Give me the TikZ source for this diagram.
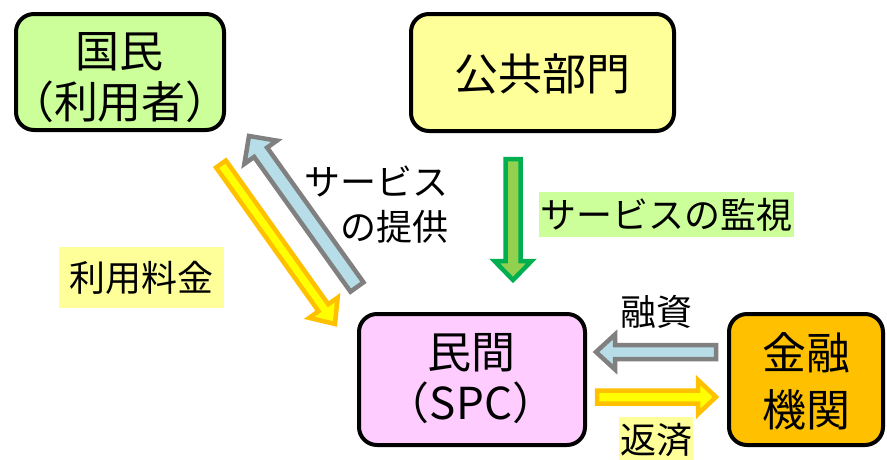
\documentclass[tikz,border=0pt]{standalone}
\usepackage{fontspec}
\newfontfamily\jp{Noto Sans CJK JP}
\usetikzlibrary{calc}
\definecolor{boxgreen}{HTML}{CCFF99}
\definecolor{boxyellow}{HTML}{FFFF99}
\definecolor{boxpink}{HTML}{FFCCFF}
\definecolor{boxorange}{HTML}{FFC000}
\definecolor{arrblue}{HTML}{B7DEE8}
\definecolor{arrgray}{HTML}{808080}
\definecolor{arrgreen}{HTML}{92D050}
\definecolor{arrgreenline}{HTML}{00B050}
\definecolor{arryellow}{HTML}{FFFF00}
\definecolor{arrorange}{HTML}{FFC000}
\tikzset{
  box/.style={draw=black, line width=4pt, rounded corners=18pt, inner sep=0pt},
  big/.style={font=\jp\fontsize{44}{51}\selectfont, inner sep=0pt, align=center},
  lab/.style={font=\jp\fontsize{36}{45}\selectfont, inner sep=0pt},
  arr/.style={line width=4.5pt, line join=miter},
  yarr/.style={arr, fill=arryellow, draw=arrorange},
  barr/.style={arr, fill=arrblue, draw=arrgray},
  garr/.style={arr, fill=arrgreen, draw=arrgreenline},
}
% #1 from, #2 to, #3 half shaft, #4 half head, #5 head length, #6 style
\newcommand\blockarr[6]{%
  \coordinate (#1#2n) at ($(#2)!#5!(#1)$);
  \path[#6] ($(#1)!#3!90:(#2)$) -- ($(#1#2n)!#3!90:(#2)$) -- ($(#1#2n)!#4!90:(#2)$)
    -- (#2) -- ($(#1#2n)!#4!-90:(#2)$) -- ($(#1#2n)!#3!-90:(#2)$) -- ($(#1)!#3!-90:(#2)$) -- cycle;
}
\begin{document}
\begin{tikzpicture}[x=1pt, y=-1pt]
\useasboundingbox (0,0) rectangle (887,459);

% boxes
\node[box, fill=boxgreen, minimum width=208pt, minimum height=116pt] (kokumin) at (120,72) {};
\node[big] (kokumintxt) at (120,77.5) {国民\\（利用者）};
\node[box, fill=boxyellow, minimum width=263pt, minimum height=117pt] (kokyo) at (542.5,72.5) {};
\node[big] (kokyotxt) at (542,74) {公共部門};
\node[box, fill=boxpink, minimum width=226pt, minimum height=131pt] (minkan) at (472,379.5) {};
\node[big] (minkantxt) at (471,378.5) {民間\\（SPC）};
\node[box, fill=boxorange, minimum width=154pt, minimum height=131pt] (kinyu) at (806,379.5) {};
\node[big, font=\jp\fontsize{44}{57}\selectfont] (kinyutxt) at (806,381.5) {金融\\機関};

% arrow end points
\coordinate (ya) at (221,164);
\coordinate (yb) at (335,324);
\coordinate (ba) at (357,287);
\coordinate (bb) at (249,136);
\coordinate (ga) at (513,159);
\coordinate (gb) at (513,280);
\coordinate (la) at (716,352);
\coordinate (lb) at (596,352);
\coordinate (ra) at (597,397);
\coordinate (rb) at (716,397);

\blockarr{ya}{yb}{6pt}{17.5pt}{20pt}{yarr}
\blockarr{ba}{bb}{8pt}{20pt}{20pt}{barr}
\blockarr{ga}{gb}{7.5pt}{18.5pt}{19pt}{garr}
\blockarr{la}{lb}{7pt}{17.5pt}{19pt}{barr}
\blockarr{ra}{rb}{6.5pt}{17pt}{18pt}{yarr}

% labels
\node[lab, align=right, anchor=east] (teikyo) at (449,204.5) {サービス\\の提供};
\node[lab, fill=boxgreen, minimum width=255pt, minimum height=45pt] (kanshi) at (666.5,214.5) {サービスの監視};
\node[lab, fill=boxyellow, minimum width=165pt, minimum height=61pt] (ryokin) at (141.5,277.5) {利用料金};
\node[lab] (yushi) at (656,312) {融資};
\node[lab, fill=boxyellow, minimum width=74pt, minimum height=46pt] (hensai) at (656,440) {返済};
\end{tikzpicture}
\end{document}
